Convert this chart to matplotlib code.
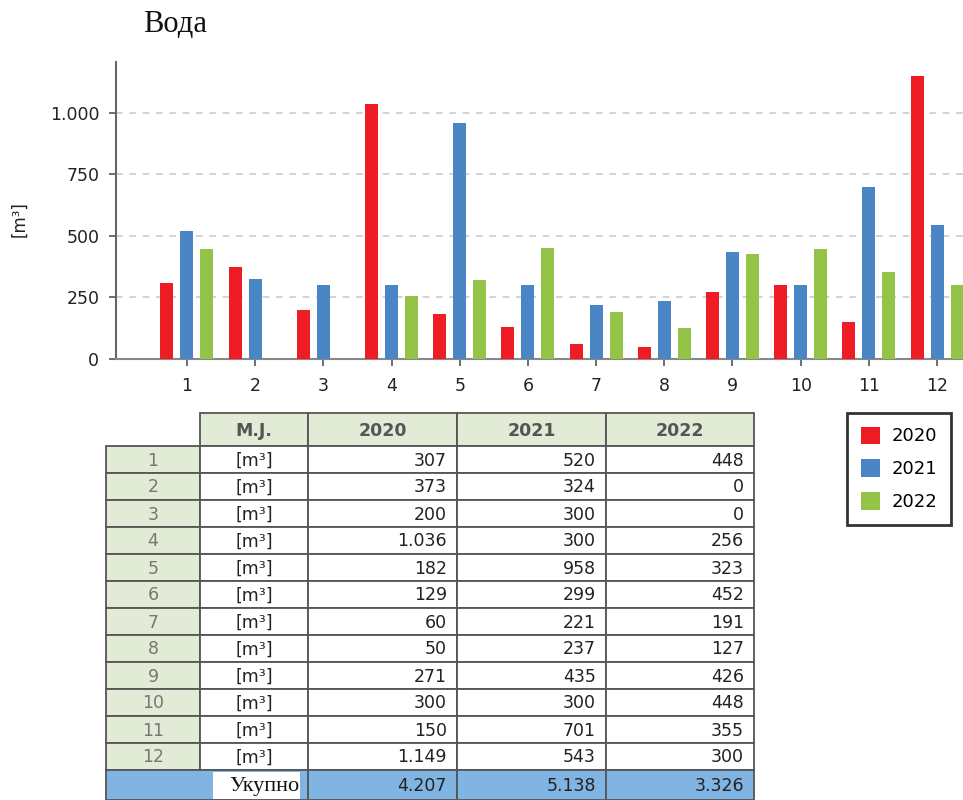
import matplotlib.pyplot as plt
import numpy as np
from matplotlib.patches import Patch, Rectangle

plt.rcParams['font.family'] = ['DejaVu Sans']

# %%
months = [1, 2, 3, 4, 5, 6, 7, 8, 9, 10, 11, 12]
years = ['2020', '2021', '2022']
v2020 = [307, 373, 200, 1036, 182, 129, 60, 50, 271, 300, 150, 1149]
v2021 = [520, 324, 300, 300, 958, 299, 221, 237, 435, 300, 701, 543]
v2022 = [448, 0, 0, 256, 323, 452, 191, 127, 426, 448, 355, 300]
totals = ['4.207', '5.138', '3.326']
unit = '[m³]'
title = 'Вода'
total_label = 'Укупно'
yticks = [0, 250, 500, 750, 1000]

colors = ['#ee1c25', '#4a86c5', '#93c447']


def fmt(v):
    return f'{v:,}'.replace(',', '.')


# %%
fig = plt.figure(figsize=(9.63, 8), dpi=100)
W, H = 963, 800

ax = fig.add_axes([116 / W, 1 - 359 / H, (W - 116) / W, (359 - 62) / H])
x = np.array(months)
width = 0.19
for i, (vals, c) in enumerate(zip([v2020, v2021, v2022], colors)):
    ax.bar(x + (i - 1) * 0.293, vals, width, color=c, edgecolor='none', zorder=3)

ax.set_xlim(-0.04, 12.38)
ax.set_ylim(0, 1207)
ax.set_xticks(months)
ax.set_xticklabels([str(m) for m in months], fontsize=12.5)
ax.set_yticks(yticks)
ax.set_yticklabels([fmt(t) for t in yticks], fontsize=12.5)
ax.tick_params(colors='#222222', labelcolor='#222222')
ax.tick_params(axis='both', color='#555555', length=5, width=1.2)
ax.tick_params(axis='x', pad=8)
ax.tick_params(axis='y', pad=7)
for y in yticks[1:]:
    ax.axhline(y, color='#cccccc', linestyle=(0, (4, 4)), linewidth=1.2, zorder=1)
ax.spines['top'].set_visible(False)
ax.spines['right'].set_visible(False)
ax.spines['left'].set_color('#666666')
ax.spines['bottom'].set_color('#888888')
ax.spines['left'].set_linewidth(1.5)
ax.spines['bottom'].set_linewidth(1.5)
ax.set_ylabel(unit, fontsize=12, color='#222222')
ax.yaxis.set_label_coords(-0.103, 0.47)

fig.text(143 / W, 1 - 25 / H, title, fontsize=22, family='Liberation Serif',
         va='center', ha='left', color='#111111')

# %% table drawn on a pixel overlay
tab = fig.add_axes([0, 0, 1, 1], zorder=5)
tab.set_xlim(0, W)
tab.set_ylim(H, 0)
tab.axis('off')
tab.patch.set_alpha(0)

col_x = [106, 200, 308, 457, 606, 754]
head_top, head_bot = 413, 446
row_h = 27
green_fill = '#e2ebd6'
border = '#555555'

# header
for j, lab in enumerate(['M.J.'] + years):
    x0, x1 = col_x[j + 1], col_x[j + 2]
    tab.add_patch(Rectangle((x0, head_top), x1 - x0, head_bot - head_top,
                            facecolor=green_fill, edgecolor=border, linewidth=1.3))
    tab.text((x0 + x1) / 2, (head_top + head_bot) / 2 + 1, lab, ha='center', va='center',
             fontsize=12.5, fontweight='bold', color='#555555')

# rows
for r, m in enumerate(months):
    y0 = head_bot + r * row_h
    cells = [str(m), unit, fmt(v2020[r]), fmt(v2021[r]), fmt(v2022[r])]
    for j, txt in enumerate(cells):
        x0, x1 = col_x[j], col_x[j + 1]
        fc = green_fill if j == 0 else 'white'
        tab.add_patch(Rectangle((x0, y0), x1 - x0, row_h, facecolor=fc,
                                edgecolor=border, linewidth=1.3))
        if j == 0:
            tab.text((x0 + x1) / 2, y0 + row_h / 2 + 1, txt, ha='center', va='center',
                     fontsize=12.5, color='#777777')
        elif j == 1:
            tab.text((x0 + x1) / 2, y0 + row_h / 2 + 1, txt, ha='center', va='center',
                     fontsize=12.5, color='#222222')
        else:
            tab.text(x1 - 10, y0 + row_h / 2 + 1, txt, ha='right', va='center',
                     fontsize=12.5, color='#222222')

# total row
ty0 = head_bot + len(months) * row_h
ty1 = 800
blue_fill = '#80b4e2'
tab.add_patch(Rectangle((col_x[0], ty0), col_x[2] - col_x[0], ty1 - ty0,
                        facecolor=blue_fill, edgecolor=border, linewidth=1.3))
tab.add_patch(Rectangle((213, ty0 + 2), 87, ty1 - ty0 - 3, facecolor='white',
                        edgecolor='none'))
tab.text(299, (ty0 + ty1) / 2 + 1, total_label, ha='right', va='center', fontsize=16,
         family='Liberation Serif', color='#111111')
for j, t in enumerate(totals):
    x0, x1 = col_x[j + 2], col_x[j + 3]
    tab.add_patch(Rectangle((x0, ty0), x1 - x0, ty1 - ty0, facecolor=blue_fill,
                            edgecolor=border, linewidth=1.3))
    tab.text(x1 - 10, (ty0 + ty1) / 2 + 1, t, ha='right', va='center',
             fontsize=12.5, color='#222222')

# %% legend
handles = [Patch(facecolor=c, edgecolor='none', label=y) for c, y in zip(colors, years)]
leg = fig.legend(handles=handles, loc='upper left', bbox_to_anchor=(847 / W, 1 - 413 / H),
                 fontsize=13, frameon=True, fancybox=False, edgecolor='black',
                 handlelength=1.1, handleheight=1.1, borderpad=0.75, labelspacing=0.78,
                 handletextpad=0.6, borderaxespad=0)
leg.get_frame().set_linewidth(2)

fig.savefig('out.png', dpi=100)
